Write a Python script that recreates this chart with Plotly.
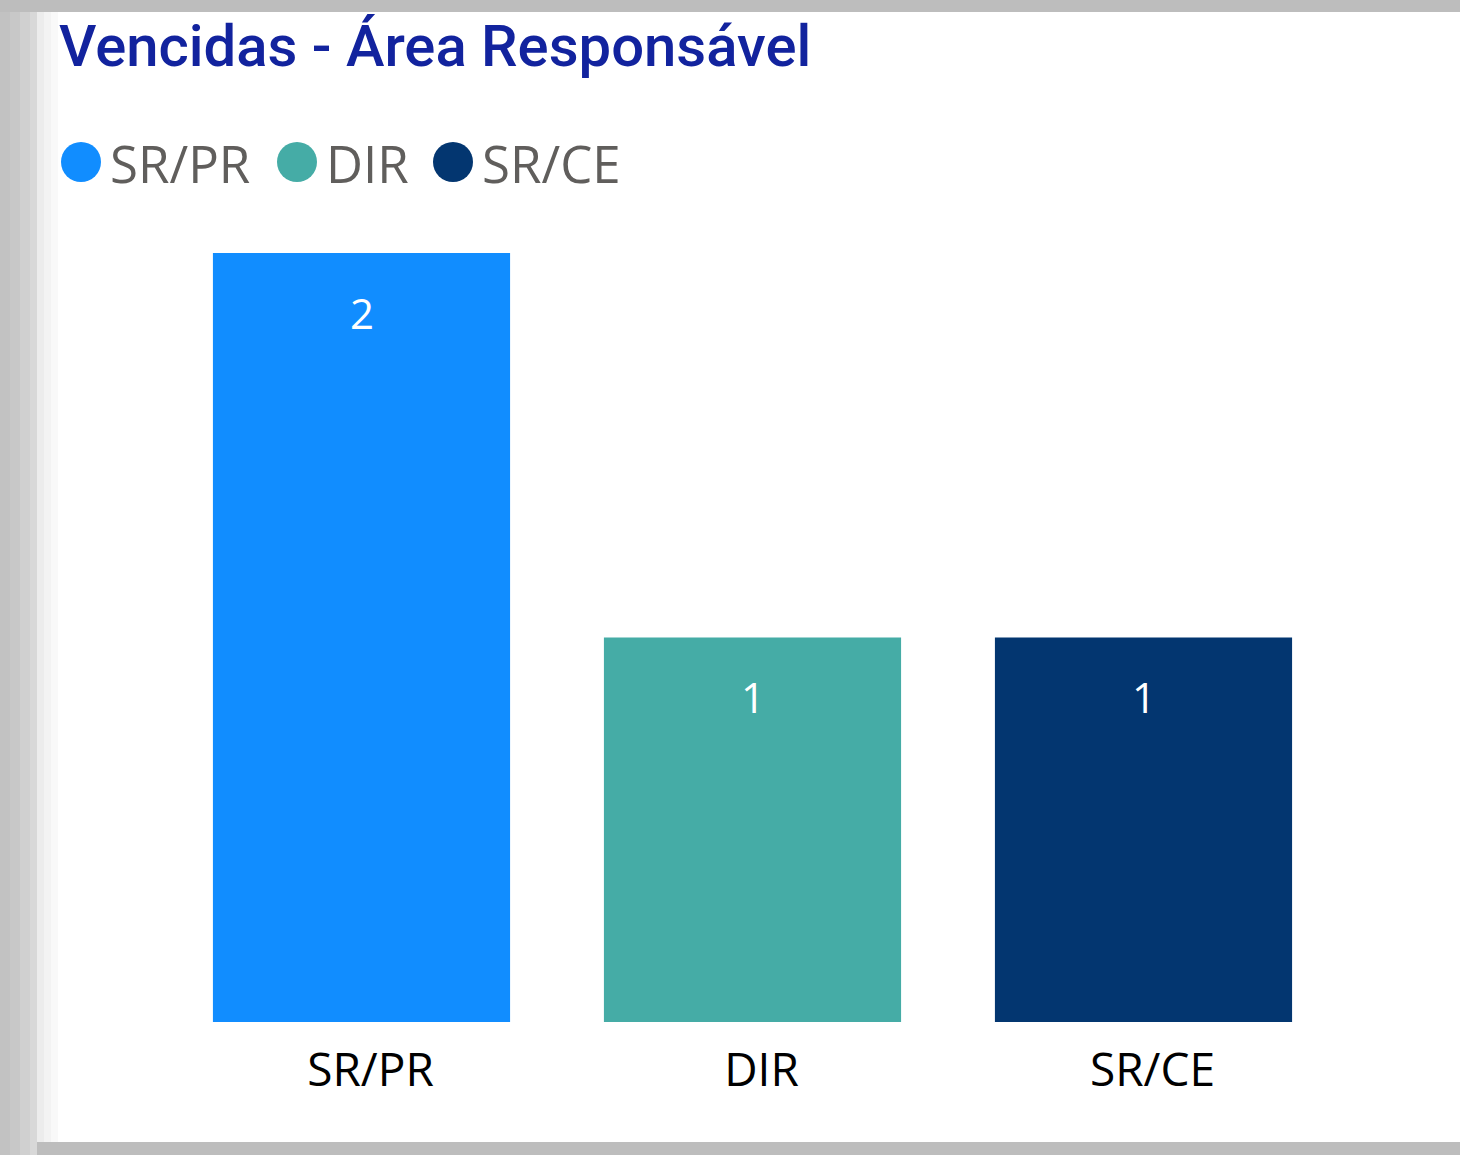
import plotly.graph_objects as go

categories = ["SR/PR", "DIR", "SR/CE"]
values = [2, 1, 1]
colors = ["#118DFF", "#45ACA6", "#033670"]
title_text = "Vencidas - Área Responsável"

W, H = 1460, 1155

def px(x):
    return x / W

def py(y):
    return 1 - y / H

fig = go.Figure()
fig.add_trace(go.Bar(
    x=categories, y=values,
    marker=dict(color=colors, line=dict(width=0)),
    width=0.76,
    showlegend=False,
    hoverinfo="x+y",
))

shapes = []
# grey frame and white card
shapes.append(dict(type="rect", xref="paper", yref="paper", x0=px(37), x1=1, y0=py(1142), y1=py(12),
                   fillcolor="white", line=dict(width=0), layer="below"))
grads = [("#c2c2c2", 0, 10), ("#c8c8c8", 10, 20), ("#d0d0d0", 20, 30), ("#d8d8d8", 30, 37)]
for c, a, b in grads:
    shapes.append(dict(type="rect", xref="paper", yref="paper", x0=px(a), x1=px(b), y0=py(1155), y1=py(12),
                       fillcolor=c, line=dict(width=0), layer="below"))
fades = [("#ececec", 37, 44), ("#f3f3f3", 44, 51), ("#f9f9f9", 51, 58)]
for c, a, b in fades:
    shapes.append(dict(type="rect", xref="paper", yref="paper", x0=px(a), x1=px(b), y0=py(1142), y1=py(12),
                       fillcolor=c, line=dict(width=0), layer="below"))

annotations = []
annotations.append(dict(text=title_text, xref="paper", yref="paper", x=px(57), y=py(46),
                        xanchor="left", yanchor="middle", showarrow=False,
                        font=dict(family="Roboto", size=58, color="#12239E", weight=500)))

# custom legend
leg_x = [81, 297, 453]
r = 20
for cx, cat, col in zip(leg_x, categories, colors):
    shapes.append(dict(type="circle", xref="paper", yref="paper",
                       x0=px(cx - r), x1=px(cx + r), y0=py(162 + r), y1=py(162 - r),
                       fillcolor=col, line=dict(width=0)))
    annotations.append(dict(text=cat, xref="paper", yref="paper", x=px(cx + 27), y=py(163),
                            xanchor="left", yanchor="middle", showarrow=False,
                            font=dict(family="Open Sans", size=51, color="#605E5C")))

# value labels inside bars
for cat, v in zip(categories, values):
    annotations.append(dict(text=str(v), x=cat, y=v, xref="x", yref="y", yshift=-59,
                            yanchor="middle", showarrow=False,
                            font=dict(family="Open Sans", size=42, color="white")))

fig.update_layout(
    width=W, height=H,
    margin=dict(l=0, r=0, t=0, b=0),
    paper_bgcolor="#BDBDBD",
    plot_bgcolor="rgba(0,0,0,0)",
    shapes=shapes,
    annotations=annotations,
    bargap=0.24,
    xaxis=dict(domain=[px(166), px(1339)], range=[-0.5, 2.5], showgrid=False, zeroline=False,
               showline=False, ticks="", tickfont=dict(family="Open Sans", size=46, color="#000000"),
               ticklabelstandoff=17, ticklabelshift=9),
    yaxis=dict(domain=[py(1022), py(253)], range=[0, 2], visible=False, showgrid=False, zeroline=False),
)

fig.write_html("out.html", config={"displayModeBar": False},
               post_script="document.body.style.margin='0';document.body.style.overflow='hidden';")
